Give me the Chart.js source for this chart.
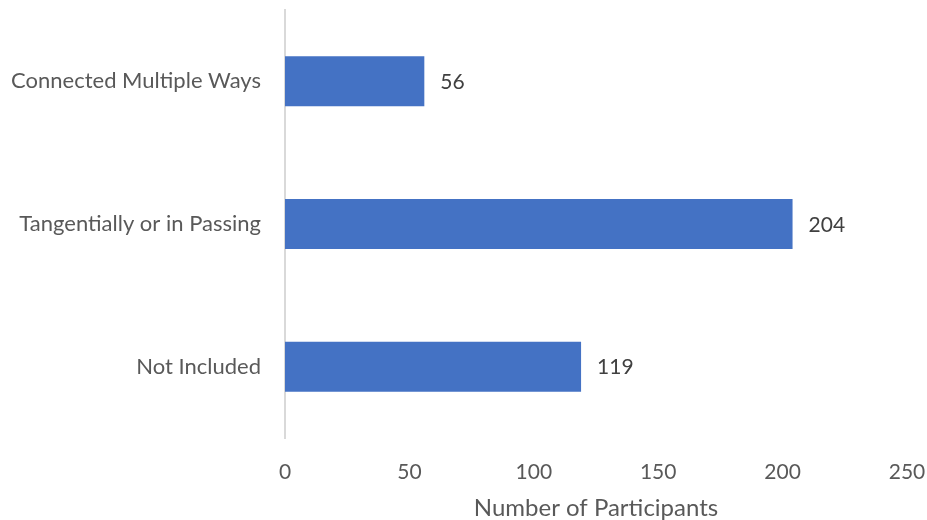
<!DOCTYPE html>
<html>
<head>
<meta charset="utf-8">
<script src="https://cdn.jsdelivr.net/npm/chart.js@4/dist/chart.umd.min.js"></script>
<style>
  html, body { margin: 0; padding: 0; background: #ffffff; }
  #wrap { width: 927px; height: 520px; position: relative; }
</style>
</head>
<body>
<div id="wrap"><canvas id="c" width="927" height="520"></canvas></div>
<script>
// Ways participants were included, counted per category
const categories = ['Connected Multiple Ways', 'Tangentially or in Passing', 'Not Included'];
const participants = [56, 204, 119];
const xTicks = [0, 50, 100, 150, 200, 250];

const FONT = "Lato, 'Open Sans', 'Liberation Sans', sans-serif";
const TEXT = '#595959';

// Writes each bar's value just past its end
const valueLabels = {
  id: 'valueLabels',
  afterDatasetsDraw(chart) {
    const ctx = chart.ctx;
    const meta = chart.getDatasetMeta(0);
    ctx.save();
    ctx.font = '21px ' + FONT;
    ctx.fillStyle = '#404040';
    ctx.textAlign = 'left';
    ctx.textBaseline = 'middle';
    meta.data.forEach((bar, i) => {
      ctx.fillText(String(participants[i]), bar.x + 16, bar.y + 1);
    });
    ctx.restore();
  }
};

new Chart(document.getElementById('c'), {
  type: 'bar',
  data: {
    labels: categories,
    datasets: [{
      data: participants,
      backgroundColor: '#4472C4',
      borderWidth: 0,
      barPercentage: 0.7,
      categoryPercentage: 0.5
    }]
  },
  options: {
    indexAxis: 'y',
    responsive: false,
    animation: false,
    layout: { padding: { top: 10, right: 20, left: 0, bottom: 0 } },
    plugins: { legend: { display: false }, tooltip: { enabled: false } },
    scales: {
      x: {
        min: 0,
        max: 250,
        afterBuildTicks(scale) { scale.ticks = xTicks.map(v => ({ value: v })); },
        grid: { display: false },
        border: { display: false },
        ticks: { color: TEXT, font: { family: FONT, size: 21 }, padding: 14 },
        title: {
          display: true,
          text: 'Number of Participants',
          color: TEXT,
          font: { family: FONT, size: 24, lineHeight: 1.0 },
          padding: { top: 0, bottom: 0 }
        },
        afterFit(scale) {
          scale.height = 82;
          scale.paddingLeft = 0;
          scale.paddingRight = 0;
        }
      },
      y: {
        grid: { display: false },
        border: { display: true, color: '#d9d9d9', width: 2 },
        ticks: { color: TEXT, font: { family: FONT, size: 22 }, padding: 16 },
        afterFit(scale) {
          scale.width = 285;
          scale.paddingTop = 0;
          scale.paddingBottom = 0;
        }
      }
    }
  },
  plugins: [valueLabels]
});
</script>
</body>
</html>
